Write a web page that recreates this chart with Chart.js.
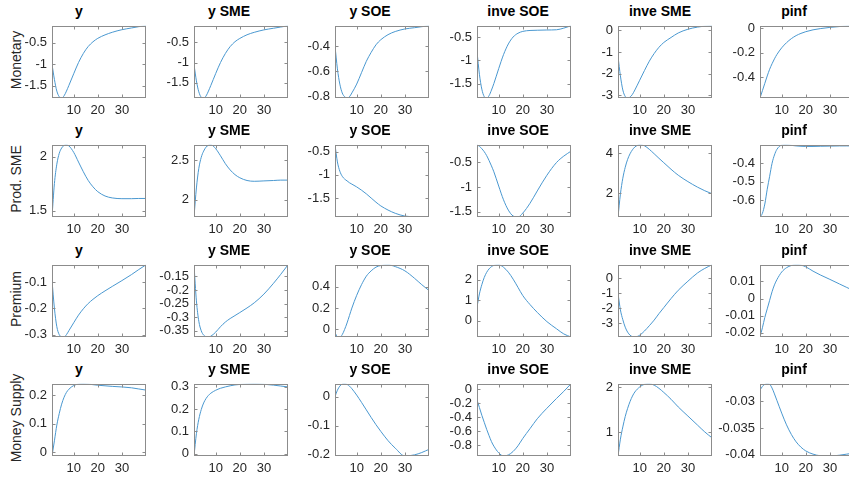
<!DOCTYPE html>
<html>
<head>
<meta charset="utf-8">
<script src="https://cdn.jsdelivr.net/npm/chart.js@4.4.1/dist/chart.umd.min.js"></script>
<style>
  html, body { margin: 0; padding: 0; background: #fff; overflow: hidden; }
  #fig { position: relative; width: 849px; height: 479px; font-family: 'Liberation Sans', Arial, sans-serif; }
  #fig canvas { position: absolute; }
  .ttl { position: absolute; font-weight: bold; font-size: 14px; line-height: 16px; color: #000; white-space: nowrap; transform: translateX(-50%); }
  .rowlab { position: absolute; font-size: 14px; line-height: 16px; color: #262626; white-space: nowrap; transform: translate(-50%, -50%) rotate(-90deg); }
</style>
</head>
<body>
<div id="fig"></div>
<script>
const periods = [1, 2, 3, 4, 5, 6, 7, 8, 10, 12, 14, 16, 18, 20, 23, 26, 30, 34, 37, 40];
const xTicks = [10, 20, 30];

const shocks = ['Monetary', 'Prod. SME', 'Premium', 'Money Supply'];
const variables = ['y', 'y SME', 'y SOE', 'inve SOE', 'inve SME', 'pinf'];

// Monetary shock
const mon_y        = [-1.00, -1.35, -1.62, -1.75, -1.78, -1.73, -1.62, -1.49, -1.22, -0.96, -0.75, -0.59, -0.48, -0.40, -0.32, -0.26, -0.20, -0.16, -0.13, -0.11];
const mon_ySME     = [-1.05, -1.45, -1.72, -1.85, -1.87, -1.82, -1.70, -1.56, -1.27, -1.00, -0.78, -0.61, -0.49, -0.41, -0.32, -0.26, -0.20, -0.16, -0.13, -0.10];
const mon_ySOE     = [-0.40, -0.58, -0.70, -0.77, -0.80, -0.81, -0.80, -0.77, -0.70, -0.61, -0.52, -0.45, -0.39, -0.35, -0.31, -0.285, -0.265, -0.255, -0.247, -0.24];
const mon_inveSOE  = [-0.81, -1.30, -1.62, -1.78, -1.81, -1.76, -1.64, -1.50, -1.18, -0.88, -0.65, -0.50, -0.42, -0.38, -0.36, -0.355, -0.35, -0.345, -0.31, -0.26];
const mon_inveSME  = [-1.20, -2.10, -2.75, -3.05, -3.12, -3.08, -2.95, -2.75, -2.30, -1.85, -1.42, -1.07, -0.78, -0.56, -0.33, -0.12, 0.05, 0.15, 0.19, 0.21];
const mon_pinf     = [-0.57, -0.51, -0.45, -0.39, -0.335, -0.29, -0.25, -0.215, -0.16, -0.118, -0.085, -0.06, -0.042, -0.028, -0.013, -0.003, 0.007, 0.014, 0.018, 0.02];

// Productivity shock to SMEs
const prod_y       = [1.44, 1.75, 1.93, 2.03, 2.08, 2.105, 2.11, 2.10, 2.04, 1.95, 1.86, 1.78, 1.72, 1.675, 1.635, 1.617, 1.61, 1.61, 1.612, 1.612];
const prod_ySME    = [1.78, 2.15, 2.40, 2.54, 2.62, 2.67, 2.695, 2.70, 2.65, 2.56, 2.46, 2.38, 2.32, 2.28, 2.245, 2.235, 2.24, 2.245, 2.25, 2.25];
const prod_ySOE    = [-0.35, -0.72, -0.92, -1.03, -1.09, -1.13, -1.17, -1.20, -1.26, -1.33, -1.41, -1.50, -1.59, -1.67, -1.76, -1.83, -1.89, -1.905, -1.91, -1.91];
const prod_inveSOE = [-0.14, -0.17, -0.22, -0.28, -0.36, -0.46, -0.57, -0.69, -0.98, -1.26, -1.47, -1.59, -1.61, -1.53, -1.33, -1.08, -0.76, -0.50, -0.37, -0.27];
const prod_inveSME = [0.80, 1.95, 2.75, 3.30, 3.70, 3.98, 4.18, 4.32, 4.43, 4.38, 4.20, 3.98, 3.75, 3.53, 3.20, 2.90, 2.58, 2.30, 2.12, 1.97];
const prod_pinf    = [-0.69, -0.67, -0.62, -0.54, -0.47, -0.40, -0.355, -0.325, -0.302, -0.300, -0.303, -0.306, -0.308, -0.309, -0.309, -0.308, -0.307, -0.306, -0.306, -0.306];

// Risk premium shock
const prem_y       = [-0.094, -0.20, -0.27, -0.30, -0.308, -0.309, -0.30, -0.285, -0.255, -0.226, -0.202, -0.182, -0.166, -0.152, -0.134, -0.117, -0.095, -0.072, -0.053, -0.035];
const prem_ySME    = [-0.107, -0.24, -0.315, -0.35, -0.366, -0.372, -0.373, -0.37, -0.355, -0.335, -0.318, -0.305, -0.294, -0.283, -0.266, -0.247, -0.215, -0.175, -0.142, -0.107];
const prem_ySOE    = [-0.03, -0.07, -0.072, -0.05, 0.0, 0.06, 0.13, 0.20, 0.32, 0.42, 0.50, 0.55, 0.585, 0.60, 0.607, 0.59, 0.55, 0.48, 0.42, 0.365];
const prem_inveSOE = [0.66, 1.30, 1.75, 2.10, 2.35, 2.52, 2.63, 2.69, 2.72, 2.60, 2.36, 2.02, 1.62, 1.22, 0.78, 0.40, -0.05, -0.40, -0.65, -0.80];
const prem_inveSME = [-1.0, -2.1, -2.75, -3.25, -3.58, -3.78, -3.88, -3.9, -3.78, -3.50, -3.15, -2.78, -2.35, -1.95, -1.35, -0.80, -0.20, 0.35, 0.65, 0.89];
const prem_pinf    = [-0.0224, -0.017, -0.011, -0.006, -0.001, 0.004, 0.008, 0.011, 0.0155, 0.018, 0.0193, 0.0197, 0.0195, 0.0185, 0.016, 0.0138, 0.0112, 0.0085, 0.0065, 0.0045];

// Money supply shock
const ms_y         = [-0.013, 0.04, 0.095, 0.135, 0.168, 0.192, 0.209, 0.22, 0.233, 0.238, 0.239, 0.238, 0.236, 0.234, 0.232, 0.230, 0.228, 0.225, 0.221, 0.217];
const ms_ySME      = [-0.01, 0.09, 0.155, 0.198, 0.228, 0.248, 0.262, 0.272, 0.285, 0.294, 0.300, 0.305, 0.309, 0.311, 0.313, 0.314, 0.312, 0.308, 0.304, 0.300];
const ms_ySOE      = [0.0, 0.022, 0.036, 0.043, 0.044, 0.042, 0.036, 0.027, 0.005, -0.02, -0.046, -0.072, -0.097, -0.12, -0.152, -0.178, -0.205, -0.201, -0.193, -0.182];
const ms_inveSOE   = [-0.15, -0.26, -0.37, -0.47, -0.57, -0.66, -0.745, -0.81, -0.905, -0.95, -0.935, -0.885, -0.805, -0.70, -0.56, -0.42, -0.27, -0.13, -0.03, 0.078];
const ms_inveSME   = [0.48, 0.85, 1.12, 1.35, 1.53, 1.68, 1.80, 1.89, 2.00, 2.06, 2.07, 2.04, 1.97, 1.88, 1.73, 1.56, 1.36, 1.16, 1.01, 0.88];
const ms_pinf      = [-0.0279, -0.0272, -0.0268, -0.0267, -0.0268, -0.0275, -0.0286, -0.0298, -0.0322, -0.0344, -0.0362, -0.0376, -0.0386, -0.0393, -0.0399, -0.0402, -0.04025, -0.0401, -0.0399, -0.0397];

// y tick labels, panel by panel
const monTicks  = [[-1.5, -1, -0.5], [-1.5, -1, -0.5], [-0.8, -0.6, -0.4], [-1.5, -1, -0.5], [-3, -2, -1, 0], [-0.4, -0.2, 0]];
const prodTicks = [[1.5, 2], [2, 2.5], [-1.5, -1, -0.5], [-1.5, -1, -0.5], [2, 4], [-0.6, -0.5, -0.4]];
const premTicks = [[-0.3, -0.2, -0.1], [-0.35, -0.3, -0.25, -0.2, -0.15], [0, 0.2, 0.4], [0, 1, 2], [-3, -2, -1, 0], [-0.02, -0.01, 0, 0.01]];
const msTicks   = [[0, 0.1, 0.2], [0, 0.1, 0.2, 0.3], [-0.2, -0.1, 0], [-0.8, -0.6, -0.4, -0.2, 0], [1, 2], [-0.04, -0.035, -0.03]];

const rows = [
  [mon_y, mon_ySME, mon_ySOE, mon_inveSOE, mon_inveSME, mon_pinf],
  [prod_y, prod_ySME, prod_ySOE, prod_inveSOE, prod_inveSME, prod_pinf],
  [prem_y, prem_ySME, prem_ySOE, prem_inveSOE, prem_inveSME, prem_pinf],
  [ms_y, ms_ySME, ms_ySOE, ms_inveSOE, ms_inveSME, ms_pinf]
];
const rowTicks = [monTicks, prodTicks, premTicks, msTicks];

// layout of the grid (px)
const BOX_LEFT0 = 52, COL_STEP = 141.6, BOX_TOP0 = 22, ROW_STEP = 119.4;
const BOX_W = 94, BOX_H = 76, AXIS_W = 45, AXIS_H = 20, PAD_TOP = 9, PAD_RIGHT = 4;
const TITLE_DX = [27, 35, 35, 41, 42, 34];
const LINE = '#4a98d0', FRAME = '#8c8c8c', TXT = '#262626';
const FONT = "'Liberation Sans', Arial, sans-serif";

// matlab-style box with inward tick marks on all four sides
const boxPlugin = {
  id: 'box',
  afterDraw(chart) {
    const { ctx, chartArea: a, scales } = chart;
    const L = Math.round(a.left) + 0.5, R = Math.round(a.right) - 0.5;
    const T = Math.round(a.top) + 0.5, B = Math.round(a.bottom) - 0.5;
    ctx.save();
    ctx.strokeStyle = FRAME;
    ctx.lineWidth = 1;
    ctx.beginPath();
    scales.x.ticks.forEach(t => {
      const px = Math.round(scales.x.getPixelForValue(t.value)) + 0.5;
      ctx.moveTo(px, B); ctx.lineTo(px, B - 3);
      ctx.moveTo(px, T); ctx.lineTo(px, T + 3);
    });
    scales.y.ticks.forEach(t => {
      const py = Math.round(scales.y.getPixelForValue(t.value)) + 0.5;
      ctx.moveTo(L, py); ctx.lineTo(L + 3, py);
      ctx.moveTo(R, py); ctx.lineTo(R - 3, py);
    });
    ctx.stroke();
    ctx.strokeRect(L, T, R - L, B - T);
    ctx.restore();
  }
};

const fig = document.getElementById('fig');

shocks.forEach((shock, r) => {
  const boxTop = Math.round(BOX_TOP0 + r * ROW_STEP);

  const lab = document.createElement('div');
  lab.className = 'rowlab';
  lab.textContent = shock;
  lab.style.left = '16px';
  lab.style.top = (boxTop + BOX_H / 2) + 'px';
  fig.appendChild(lab);

  variables.forEach((name, c) => {
    const boxLeft = Math.round(BOX_LEFT0 + c * COL_STEP);
    const series = rows[r][c];
    const ticks = rowTicks[r][c];

    const ttl = document.createElement('div');
    ttl.className = 'ttl';
    ttl.textContent = name;
    ttl.style.left = (boxLeft + TITLE_DX[c]) + 'px';
    ttl.style.top = (boxTop - 19) + 'px';
    fig.appendChild(ttl);

    const cv = document.createElement('canvas');
    const w = AXIS_W + BOX_W + PAD_RIGHT, h = PAD_TOP + BOX_H + AXIS_H;
    cv.width = w; cv.height = h;
    cv.style.width = w + 'px'; cv.style.height = h + 'px';
    cv.style.left = (boxLeft - AXIS_W) + 'px';
    cv.style.top = (boxTop - PAD_TOP) + 'px';
    fig.appendChild(cv);

    new Chart(cv, {
      type: 'line',
      data: {
        datasets: [{
          data: periods.map((p, i) => ({ x: p, y: series[i] })),
          borderColor: LINE,
          borderWidth: 1,
          pointRadius: 0,
          cubicInterpolationMode: 'monotone',
          fill: false
        }]
      },
      options: {
        responsive: false,
        animation: false,
        layout: { padding: { top: PAD_TOP, right: PAD_RIGHT, left: 0, bottom: 0 } },
        plugins: { legend: { display: false }, tooltip: { enabled: false }, title: { display: false } },
        scales: {
          x: {
            type: 'linear',
            min: periods[0],
            max: periods[periods.length - 1],
            grid: { display: false, drawTicks: false },
            border: { display: false },
            afterBuildTicks: s => { s.ticks = xTicks.map(v => ({ value: v })); },
            afterFit: s => { s.height = AXIS_H; },
            ticks: { padding: 5, autoSkip: false, maxRotation: 0, color: TXT, font: { family: FONT, size: 13 }, callback: v => String(v) }
          },
          y: {
            min: Math.min(...series),
            max: Math.max(...series),
            grid: { display: false, drawTicks: false },
            border: { display: false },
            afterBuildTicks: s => { s.ticks = ticks.map(v => ({ value: v })); },
            afterFit: s => { s.width = AXIS_W; },
            ticks: { padding: 5, autoSkip: false, color: TXT, font: { family: FONT, size: 13 }, callback: v => String(v) }
          }
        }
      },
      plugins: [boxPlugin]
    });
  });
});
</script>
</body>
</html>
